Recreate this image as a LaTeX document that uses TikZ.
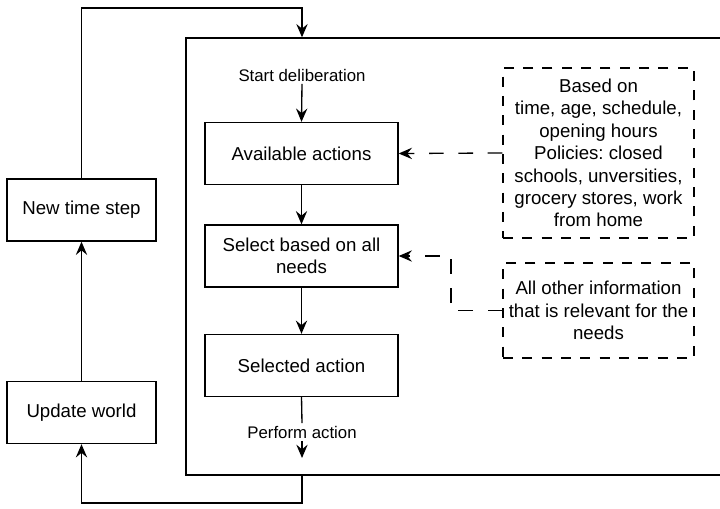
\documentclass[tikz,border=0pt]{standalone}
\usepackage{fontspec}
\setmainfont{Liberation Sans}
\usetikzlibrary{arrows.meta}
\frenchspacing

\tikzset{
  every path/.style={line width=1pt},
  boxtext/.style={font=\fontsize{14pt}{16.8pt}\selectfont, align=center},
  stepbox/.style={draw, boxtext, rectangle, inner sep=2pt},
  actbox/.style={stepbox, minimum width=144.75pt, minimum height=46.5pt},
  sidebox/.style={stepbox, minimum width=111.75pt, minimum height=46.5pt},
  infobox/.style={draw, boxtext, dash pattern=on 7.5pt off 7pt, minimum width=143.25pt, inner sep=0pt},
  smalllabel/.style={font=\fontsize{12.6pt}{15pt}\selectfont, inner sep=1.5pt},
  arr/.style={-{Stealth[length=10pt,width=8.5pt,inset=3.5pt]}},
  dasharr/.style={arr, dash pattern=on 11pt off 11pt}
}

\begin{document}
\begin{tikzpicture}[x=0.75pt, y=-0.75pt]
  \useasboundingbox (0,0) rectangle (720,509);

  % deliberation frame (open towards the right page edge)
  \node[draw, minimum width=403.5pt, minimum height=327.75pt, inner sep=0pt] (frame) at (455,256.5) {};

  % outer loop boxes
  \node[sidebox] (nts) at (81.5,210) {New time step};
  \node[sidebox] (uw) at (81.5,412.5) {Update world};

  % deliberation steps
  \node[actbox] (avail) at (301.5,153.5) {Available actions};
  \node[actbox] (sel) at (301.5,256) {Select based on all\\needs};
  \node[actbox] (selected) at (301.5,365.5) {Selected action};

  \node[smalllabel] (start) at (302,75) {Start deliberation};
  \node[smalllabel] (perform) at (302,432) {Perform action};

  % information sources
  \node[infobox, minimum height=127.5pt] (info1) at (598.5,153)
    {Based on\\time, age, schedule,\\opening hours\\Policies: closed\\schools, unversities,\\grocery stores, work\\from home};
  \node[infobox, minimum height=71.25pt] (info2) at (598.5,310.5)
    {All other information\\that is relevant for the\\needs};

  % flow inside the frame
  \draw[arr] (start.south) -- (avail.north);
  \draw[arr] (avail.south) -- (sel.north);
  \draw[arr] (sel.south) -- (selected.north);
  \draw (selected.south) -- (perform.north);
  \draw[arr] (perform.south) -- (perform.south |- 0,458);

  % information feeding into the steps
  \coordinate (bend) at (451,0);
  \draw[dasharr] (info1.west) -- (avail.east);
  \draw[dasharr] (info2.west) -- (info2.west -| bend) -- (bend |- sel.east) -- (sel.east);

  % outer time loop
  \coordinate (topturn) at (302,8);
  \coordinate (botturn) at (302,503);
  \draw[arr] (nts.north) |- (topturn) -- (topturn |- frame.north);
  \draw[arr] (topturn |- frame.south) -- (botturn) -| (uw.south);
  \draw[arr] (uw.north) -- (nts.south);
\end{tikzpicture}
\end{document}
